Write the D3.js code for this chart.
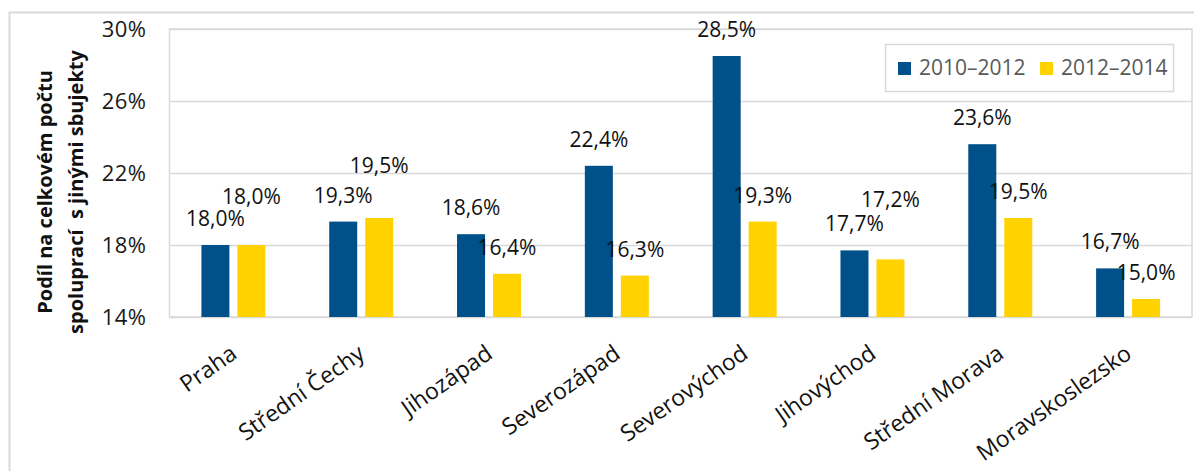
<!DOCTYPE html>
<html>
<head>
<meta charset="utf-8">
<script src="https://cdn.jsdelivr.net/npm/d3@7"></script>
<style>
  body { margin: 0; background: #fff; }
  text { font-family: "Open Sans", sans-serif; }
</style>
</head>
<body>
<div id="chart"></div>
<script>
// data
var categories = ["Praha", "Střední Čechy", "Jihozápad", "Severozápad", "Severovýchod", "Jihovýchod", "Střední Morava", "Moravskoslezsko"];
var seriesNames = ["2010–2012", "2012–2014"];
var values2010 = [18.0, 19.3, 18.6, 22.4, 28.5, 17.7, 23.6, 16.7];
var values2012 = [18.0, 19.5, 16.4, 16.3, 19.3, 17.2, 19.5, 15.0];
var yTicks = [14, 18, 22, 26, 30];

// extra lift of some labels (they sit higher in the original)
var labelLift2012 = [22, 26, 0, 0, 0, 33, 0, 0];

var colors = ["#005089", "#FFD200"];
var gridColor = "#d9d9d9";

var W = 1194, H = 471;
var margin = { top: 29, right: 2, bottom: 154, left: 169.5 },
  width = W - margin.left - margin.right,
  height = H - margin.top - margin.bottom;

var svg = d3
  .select("#chart")
  .append("svg")
  .attr("width", W)
  .attr("height", H);

// outer chart frame
svg
  .append("rect")
  .attr("x", 9.5)
  .attr("y", 12.5)
  .attr("width", W)
  .attr("height", H)
  .attr("fill", "none")
  .attr("stroke", gridColor)
  .attr("stroke-width", 2);

var g = svg
  .append("g")
  .attr("transform", "translate(" + margin.left + "," + margin.top + ")");

var x0 = d3.scaleBand().domain(categories).range([0, width]).padding(0);
var groupW = 64;
var x1 = d3.scaleBand().domain(seriesNames).range([0, groupW]).paddingInner(0.222);
var y = d3.scaleLinear().domain([14, 30]).range([height, 0]);

// gridlines
g.append("g")
  .attr("class", "grid")
  .call(d3.axisLeft(y).tickValues(yTicks).tickSize(-width).tickFormat(""))
  .call(function (s) {
    s.select(".domain").remove();
    s.selectAll("line").attr("stroke", gridColor).attr("stroke-width", 1.5);
  });

// plot frame
g.append("rect")
  .attr("x", 0)
  .attr("y", 0)
  .attr("width", width)
  .attr("height", height)
  .attr("fill", "none")
  .attr("stroke", gridColor)
  .attr("stroke-width", 1.5);

// y tick labels
g.append("g")
  .call(d3.axisLeft(y).tickValues(yTicks).tickSize(0).tickPadding(23).tickFormat(function (d) { return d + "%"; }))
  .call(function (s) {
    s.select(".domain").remove();
    s.selectAll("text")
      .attr("fill", "#1a1a1a")
      .style("font-size", "22px")
      .style("letter-spacing", "0.5px")
      .style("font-family", "Open Sans, sans-serif");
  });

// bars
var rows = categories.map(function (c, i) {
  return { cat: c, i: i, vals: [values2010[i], values2012[i]] };
});

var groups = g
  .selectAll(".grp")
  .data(rows)
  .enter()
  .append("g")
  .attr("class", "grp")
  .attr("transform", function (d) {
    return "translate(" + (x0(d.cat) + (x0.bandwidth() - groupW) / 2) + ",0)";
  });

groups
  .selectAll("rect")
  .data(function (d) {
    return d.vals.map(function (v, k) { return { s: seriesNames[k], k: k, v: v, i: d.i }; });
  })
  .enter()
  .append("rect")
  .attr("x", function (d) { return x1(d.s); })
  .attr("y", function (d) { return y(d.v); })
  .attr("width", x1.bandwidth())
  .attr("height", function (d) { return height - y(d.v); })
  .attr("fill", function (d) { return colors[d.k]; });

// value labels
groups
  .selectAll(".lbl")
  .data(function (d) {
    return d.vals.map(function (v, k) { return { s: seriesNames[k], k: k, v: v, i: d.i }; });
  })
  .enter()
  .append("text")
  .attr("class", "lbl")
  .attr("x", function (d) { return x1(d.s) + x1.bandwidth() / 2; })
  .attr("y", function (d) {
    var lift = d.k === 1 ? labelLift2012[d.i] : 0;
    return y(d.v) - 19 - lift;
  })
  .attr("text-anchor", "middle")
  .attr("fill", "#111")
  .style("font-size", "21px")
  .text(function (d) { return d.v.toFixed(1).replace(".", ",") + "%"; });

// category labels
g.append("g")
  .selectAll("text")
  .data(categories)
  .enter()
  .append("text")
  .attr("transform", function (d) {
    return "translate(" + (x0(d) + x0.bandwidth() / 2 + 5) + "," + (height + 40) + ") rotate(-35)";
  })
  .attr("text-anchor", "end")
  .attr("fill", "#111")
  .style("font-size", "23px")
  .text(function (d) { return d; });

// y axis title
var yTitle = svg
  .append("text")
  .attr("transform", "translate(52,192) rotate(-90)")
  .attr("text-anchor", "middle")
  .style("font-size", "20px")
  .style("font-weight", "bold")
  .style("white-space", "pre")
  .attr("fill", "#111");
yTitle.append("tspan").attr("x", 0).attr("y", 0).text("Podíl na celkovém počtu");
yTitle.append("tspan").attr("x", 0).attr("y", 31).text("spoluprací  s jinými sbujekty");

// legend
var legend = svg.append("g").attr("transform", "translate(885.5,44.5)");
legend
  .append("rect")
  .attr("width", 288)
  .attr("height", 47)
  .attr("fill", "#fff")
  .attr("stroke", gridColor)
  .attr("stroke-width", 1.5);

var legendX = [12.5, 154.5];
var items = legend
  .selectAll(".item")
  .data(seriesNames)
  .enter()
  .append("g")
  .attr("class", "item")
  .attr("transform", function (d, i) { return "translate(" + legendX[i] + ",0)"; });

items
  .append("rect")
  .attr("x", 0)
  .attr("y", 17.5)
  .attr("width", 13)
  .attr("height", 13)
  .attr("fill", function (d, i) { return colors[i]; });

items
  .append("text")
  .attr("x", 21)
  .attr("y", 30)
  .attr("fill", "#595959")
  .style("font-size", "21px")
  .text(function (d) { return d; });
</script>
</body>
</html>
